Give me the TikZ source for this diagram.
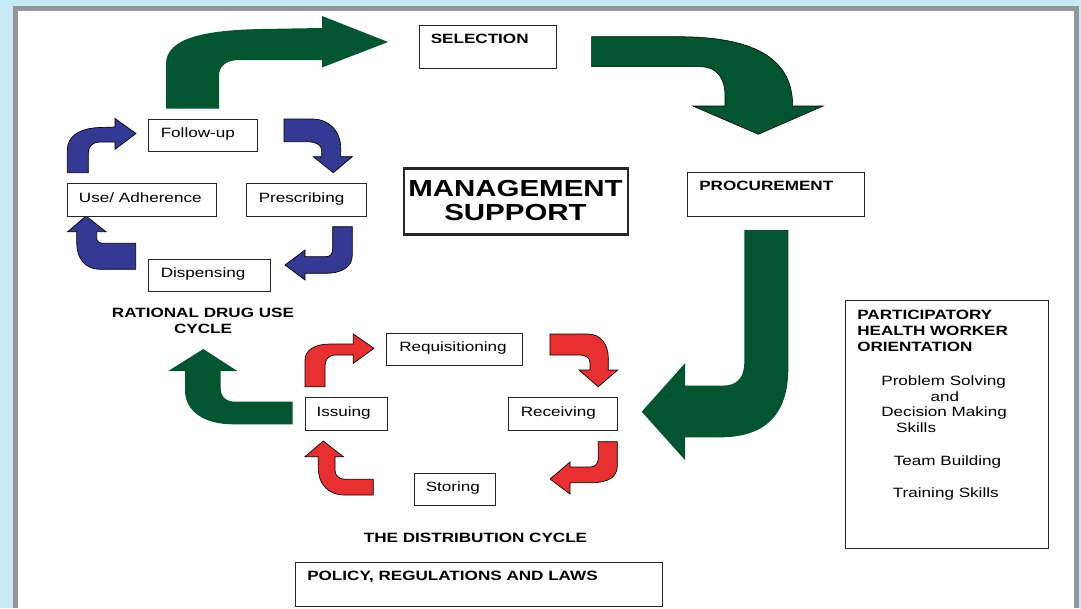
\documentclass[tikz,border=0pt]{standalone}
\usepackage{fontspec}
\setmainfont{Liberation Sans}[FakeStretch=1.27]
\usetikzlibrary{fit}

\definecolor{skyback}{RGB}{199,233,248}
\definecolor{framegray}{RGB}{150,150,154}
\definecolor{mgmtgreen}{RGB}{3,84,48}
\definecolor{rdublue}{RGB}{52,58,146}
\definecolor{distred}{RGB}{233,48,48}

\tikzset{
    box/.style={draw=black!85, line width=0.75pt, fill=white, inner sep=0pt},
    lbl/.style={inner sep=0pt, font=\fontsize{10.1}{11.9}\selectfont},
    head/.style={inner sep=0pt, font=\fontsize{10.1}{12.2}\selectfont\bfseries},
    greenarrow/.style={fill=mgmtgreen},
    bluearrow/.style={fill=rdublue, draw=black, line width=0.5pt},
    redarrow/.style={fill=distred, draw=black, line width=0.5pt},
}

\begin{document}
\begin{tikzpicture}[x=0.75pt,y=0.75pt,yscale=-1,xscale=1]
        \useasboundingbox (0,0) rectangle (1081,608);
        % slide background and frame
        \fill[skyback] (0,0) rectangle (1081,608);
        \fill[framegray] (12.5,6) rectangle (1079,608);
        \fill[white] (17.5,11) rectangle (1074,608);

        % big green arrows
        \fill[greenarrow] (166,108.5) -- (166,64) .. controls (166,38) and (205,30) .. (262,29) -- (322,28) -- (322,16) -- (388,42) -- (322,67.5) -- (322,60) -- (240,60) .. controls (226,60) and (219,66) .. (219,76) -- (219,108.5) -- cycle ;
        \filldraw[greenarrow, draw=black, line width=0.4pt] (591.7,36.7) -- (680,36.7) .. controls (760,37) and (792.7,62) .. (792.7,106) -- (823.3,106) -- (758.3,134.3) -- (692.7,106) -- (725,106) -- (725,96) .. controls (725,78) and (717,66.7) .. (700,66.7) -- (591.7,66.7) -- cycle ;
        \fill[greenarrow] (744.3,230) -- (788.3,230) -- (788.3,368) .. controls (788.3,415) and (765,437.3) .. (720,437.3) -- (685,437.3) -- (685,460) -- (641.7,411.7) -- (685,363.3) -- (685,385.7) -- (722,385.7) .. controls (737,385.7) and (744.3,378) .. (744.3,362) -- cycle ;
        \fill[greenarrow] (292.7,401.7) -- (292.7,424.3) -- (233,424.3) .. controls (205,424.3) and (185,412) .. (185,390) -- (185,371) -- (168.3,371) -- (203.3,349) -- (237.3,371) -- (220.7,371) -- (220.7,388) .. controls (220.7,397) and (226,401.7) .. (236,401.7) -- cycle ;

        % blue arrows (rational drug use)
        \filldraw[bluearrow] (67.3,172.7) -- (67.3,150) .. controls (67.3,136) and (80,128) .. (100,127.5) -- (115,127) -- (115,118.5) -- (136,133.5) -- (115,149.3) -- (115,142) -- (100,142) .. controls (93,142) and (88.3,146) .. (88.3,153) -- (88.3,172.7) -- cycle ;
        \filldraw[bluearrow] (284,119) -- (312,119) .. controls (330,119) and (340.7,132) .. (340.7,148) -- (340.7,156.7) -- (352.3,156.7) -- (333.3,172.7) -- (313.3,156.7) -- (321.7,156.7) -- (321.7,150) .. controls (321.7,145) and (316,141.7) .. (306,141.7) -- (284,141.7) -- cycle ;
        \filldraw[bluearrow] (332.7,226.7) -- (352.3,226.7) -- (352.3,255) .. controls (352.3,267) and (342,273.3) .. (325,273.3) -- (305,273.3) -- (305,280) -- (285,265) -- (305,250) -- (305,256.7) -- (326,256.7) .. controls (330,256.7) and (332.7,254) .. (332.7,249) -- cycle ;
        \filldraw[bluearrow] (135.7,243.3) -- (135.7,269.3) -- (100,269.3) .. controls (85,269.3) and (76.7,258) .. (76.7,243) -- (76.7,231.7) -- (67.7,231.7) -- (86,216) -- (106,231.7) -- (96.7,231.7) -- (96.7,238) .. controls (96.7,241.5) and (99,243.3) .. (104,243.3) -- cycle ;

        % red arrows (distribution)
        \filldraw[redarrow] (305,386.7) -- (305,360) .. controls (305,350) and (315,344) .. (330,344) -- (353.3,344) -- (353.3,334) -- (374,348.3) -- (353.3,363.3) -- (353.3,355) -- (335,355) .. controls (329,355) and (325,359) .. (325,366) -- (325,386.7) -- cycle ;
        \filldraw[redarrow] (550,334) -- (588,334) .. controls (601,334) and (608.3,345) .. (608.3,358) -- (608.3,370) -- (617.7,370) -- (598.3,386.7) -- (579,370) -- (590,370) -- (590,363) .. controls (590,358) and (586,355) .. (580,355) -- (550,355) -- cycle ;
        \filldraw[redarrow] (598.3,441.7) -- (617.3,441.7) -- (617.3,466) .. controls (617.3,477) and (608,482.7) .. (592,482.7) -- (570,482.7) -- (570,494) -- (550,479) -- (570,462) -- (570,467) -- (590,467) .. controls (595,467) and (598.3,464) .. (598.3,458) -- cycle ;
        \filldraw[redarrow] (373.3,479.3) -- (373.3,495) -- (345,495) .. controls (328,495) and (318.3,484) .. (318.3,468) -- (318.3,456.7) -- (305,456.7) -- (323.3,441) -- (343.3,456.7) -- (335,456.7) -- (335,470) .. controls (335,476) and (339,479.3) .. (346,479.3) -- cycle ;

        % boxes
        \node[box, fit={(419.3,25) (556,68.3)}] (selection) {};
        \node[box, fit={(687.3,172.7) (864,216)}] (procurement) {};
        \node[box, line width=2pt, fit={(404,168.3) (628,234.7)}] (mgmt) {};
        \node[box, fit={(148.3,119) (257.3,151.7)}] (followup) {};
        \node[box, fit={(67.3,183.3) (216.7,216)}] (adherence) {};
        \node[box, fit={(246.7,183.3) (366,216)}] (prescribing) {};
        \node[box, fit={(148.3,259) (270.7,291.7)}] (dispensing) {};
        \node[box, fit={(386.7,333.3) (522.7,365.7)}] (requisitioning) {};
        \node[box, fit={(305,397.7) (387.3,430)}] (issuing) {};
        \node[box, fit={(508.7,397.7) (617.7,430)}] (receiving) {};
        \node[box, fit={(414,473.3) (495.7,505.7)}] (storing) {};
        \node[box, fit={(845,300) (1048.3,548.3)}] (orientation) {};
        \node[box, fit={(295.5,562.7) (662,606)}] (policy) {};

        % texts
        \node[head, anchor=base west] (selection-t) at (430.5,43) {SELECTION};
        \node[head, anchor=base west] (procurement-t) at (699,190.7) {PROCUREMENT};
        \node[head, anchor=north, align=center, font=\fontsize{17.4}{18}\selectfont\bfseries] (mgmt-t) at (515.5,180.5) {MANAGEMENT\\SUPPORT};
        \node[lbl, anchor=base west] (followup-t) at (160.5,137.3) {Follow-up};
        \node[lbl, anchor=base west] (adherence-t) at (78.7,202.3) {Use/ Adherence};
        \node[lbl, anchor=base west] (prescribing-t) at (258.5,202.3) {Prescribing};
        \node[lbl, anchor=base west] (dispensing-t) at (160.5,277.3) {Dispensing};
        \node[head, anchor=north, align=center] (rdu-t) at (203,307.5) {RATIONAL DRUG USE\\CYCLE};
        \node[lbl, anchor=base west] (requisitioning-t) at (399,351.3) {Requisitioning};
        \node[lbl, anchor=base west] (issuing-t) at (316.3,416.7) {Issuing};
        \node[lbl, anchor=base west] (receiving-t) at (520.5,416.7) {Receiving};
        \node[lbl, anchor=base west] (storing-t) at (425.5,491.7) {Storing};
        \node[head, anchor=base] (distribution-t) at (475.5,542.3) {THE DISTRIBUTION CYCLE};
        \node[head, anchor=base west] (policy-t) at (307,580.7) {POLICY, REGULATIONS AND LAWS};
        \node[head, anchor=north west, align=left] (orientation-t) at (857,309.5) {PARTICIPATORY\\HEALTH WORKER\\ORIENTATION};
        \node[lbl, anchor=north west, align=left] (skills-t) at (881.1,375.2) {Problem Solving\\\hspace*{37pt}and\\Decision Making\\\hspace*{11.1pt}Skills};
        \node[lbl, anchor=base] (team-t) at (947.5,465.7) {Team Building};
        \node[lbl, anchor=base] (training-t) at (945.8,497.3) {Training Skills};
\end{tikzpicture}
\end{document}
